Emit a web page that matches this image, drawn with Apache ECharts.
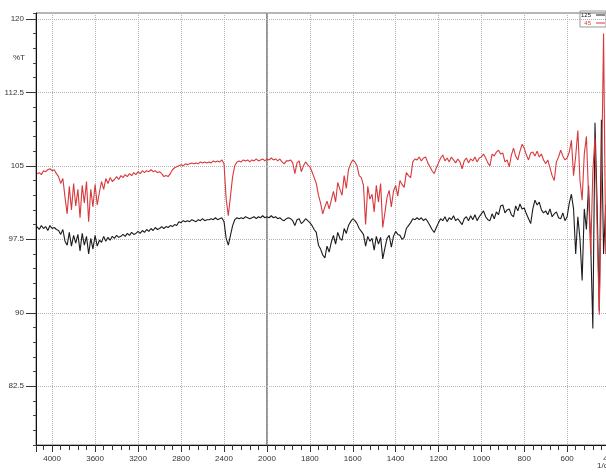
<!DOCTYPE html>
<html>
<head>
<meta charset="utf-8">
<script src="https://cdn.jsdelivr.net/npm/echarts@6/dist/echarts.min.js"></script>
<style>
html, body { margin: 0; padding: 0; background: #fff; }
#chart { width: 606px; height: 472px; }
</style>
</head>
<body>
<div id="chart"></div>
<script>
// 4150-2000 1/cm (compressed half of the axis)
const wnHigh = [
    4140, 4120, 4100, 4080, 4060, 4040, 4020, 4000, 3980, 3960,
    3940, 3920, 3900, 3880, 3860, 3840, 3820, 3800, 3780, 3760,
    3740, 3720, 3700, 3680, 3660, 3640, 3620, 3600, 3580, 3560,
    3540, 3520, 3500, 3480, 3460, 3440, 3420, 3400, 3380, 3360,
    3340, 3320, 3300, 3280, 3260, 3240, 3220, 3200, 3180, 3160,
    3140, 3120, 3100, 3080, 3060, 3040, 3020, 3000, 2980, 2960,
    2940, 2920, 2900, 2880, 2860, 2840, 2820, 2800, 2780, 2760,
    2740, 2720, 2700, 2680, 2660, 2640, 2620, 2600, 2580, 2560,
    2540, 2520, 2500, 2480, 2460, 2440, 2420, 2400, 2380, 2360,
    2340, 2320, 2300, 2280, 2260, 2240, 2220, 2200, 2180, 2160,
    2140, 2120, 2100, 2080, 2060, 2040, 2020, 2000
];
const redHigh = [
    104.2, 104.3, 104.1, 104.5, 104.4, 104.6, 104.7, 104.5, 104.6, 104.2,
    103.9, 103.2, 103.7, 101.8, 100.1, 102.9, 100.5, 103.2, 100.9, 102.6,
    99.7, 103.0, 101.2, 103.4, 99.3, 102.6, 100.8, 103.1, 101.0, 102.3,
    103.4, 102.6, 103.7, 103.2, 103.8, 103.4, 103.6, 103.9, 103.6, 104.0,
    103.8, 104.1, 103.9, 104.2, 104.0, 104.3, 104.1, 104.4, 104.2, 104.5,
    104.3, 104.5, 104.4, 104.6, 104.4, 104.5, 104.3, 104.4, 104.2, 103.9,
    104.0, 103.9, 104.2, 104.6, 104.8, 104.9, 105.0, 105.1, 105.0, 105.2,
    105.1, 105.2, 105.3, 105.2, 105.3, 105.2, 105.4, 105.3, 105.4, 105.3,
    105.4, 105.3, 105.5, 105.4, 105.5, 105.4, 105.6, 105.2, 101.6, 99.9,
    101.9, 103.9, 105.0, 105.4, 105.5, 105.4, 105.6, 105.5, 105.6, 105.4,
    105.6, 105.5, 105.7, 105.5, 105.6, 105.7, 105.5, 105.7
];
const blackHigh = [
    98.8, 98.5, 98.9, 98.6, 98.8, 98.4, 98.9, 98.6, 98.7, 98.5,
    98.4, 98.0, 98.5, 97.3, 96.9, 98.2, 96.8, 97.9, 97.1, 98.0,
    96.3, 98.1, 96.9, 97.8, 96.0, 97.6, 96.5, 97.9, 96.8, 97.4,
    97.2, 97.8, 97.3, 97.7, 97.4, 97.8, 97.6, 97.9, 97.7, 97.8,
    98.0, 97.8, 98.1, 97.9, 98.2, 98.0, 98.1, 98.3, 98.1, 98.4,
    98.2, 98.5, 98.3, 98.6, 98.4, 98.7, 98.5, 98.6, 98.8, 98.6,
    98.8, 98.7, 98.9, 98.8, 99.0, 98.9, 99.3, 99.2, 99.4, 99.3,
    99.4, 99.3, 99.5, 99.4, 99.3, 99.5, 99.4, 99.6, 99.4, 99.5,
    99.5, 99.6, 99.5, 99.7, 99.5, 99.6, 99.7, 99.3, 97.6, 96.9,
    97.9, 98.9, 99.5, 99.7, 99.6, 99.7, 99.6, 99.8, 99.7, 99.6,
    99.7, 99.8, 99.6, 99.8, 99.7, 99.9, 99.7, 99.8
];

// 2000-400 1/cm (expanded half)
const wnLow = [
    2000, 1990, 1980, 1970, 1960, 1950, 1940, 1930, 1920, 1910,
    1900, 1890, 1880, 1870, 1860, 1850, 1840, 1830, 1820, 1810,
    1800, 1790, 1780, 1770, 1760, 1750, 1740, 1730, 1720, 1710,
    1700, 1690, 1680, 1670, 1660, 1650, 1640, 1630, 1620, 1610,
    1600, 1590, 1580, 1570, 1560, 1550, 1540, 1530, 1520, 1510,
    1500, 1490, 1480, 1470, 1460, 1450, 1440, 1430, 1420, 1410,
    1400, 1390, 1380, 1370, 1360, 1350, 1340, 1330, 1320, 1310,
    1300, 1290, 1280, 1270, 1260, 1250, 1240, 1230, 1220, 1210,
    1200, 1190, 1180, 1170, 1160, 1150, 1140, 1130, 1120, 1110,
    1100, 1090, 1080, 1070, 1060, 1050, 1040, 1030, 1020, 1010,
    1000, 990, 980, 970, 960, 950, 940, 930, 920, 910,
    900, 890, 880, 870, 860, 850, 840, 830, 820, 810,
    800, 790, 780, 770, 760, 750, 740, 730, 720, 710,
    700, 690, 680, 670, 660, 650, 640, 630, 620, 610,
    600, 590, 580, 570, 560, 550, 540, 530, 520, 510,
    500, 490, 480, 470, 460, 450, 440, 430, 420, 410,
    400
];
const redLow = [
    105.7, 105.6, 105.8, 105.6, 105.7, 105.5, 105.7, 105.4, 105.2, 105.5,
    105.5, 105.6, 105.3, 104.2, 105.3, 105.5, 104.4, 105.0, 105.4, 105.1,
    104.9, 104.4, 103.8, 103.2, 102.0, 101.2, 100.1, 100.8, 101.4, 100.6,
    101.5, 102.4, 101.3, 103.3, 102.6, 102.0, 104.0, 102.7, 104.6, 105.2,
    105.6, 105.4, 105.0, 104.0, 103.8, 103.0, 99.0, 102.9, 101.6, 102.1,
    100.3, 103.0, 101.3, 103.2, 98.7, 100.2, 101.8, 102.5, 100.8, 102.4,
    103.0, 101.9, 103.5, 103.1, 102.8, 104.3, 104.0, 103.8, 105.4, 105.7,
    105.6, 105.9, 105.5, 105.8, 105.9, 105.3, 104.9, 104.5, 104.2, 104.8,
    105.3, 105.8, 106.1, 105.5, 105.8, 105.4, 105.9, 105.6, 105.3, 105.7,
    105.4, 104.7, 105.5, 105.8, 105.3, 105.7, 105.5, 105.9, 105.4, 105.8,
    105.9, 106.2, 105.8, 105.3, 105.0, 106.2, 106.0, 106.4, 106.6, 106.2,
    106.3, 105.4, 105.6, 104.9, 106.1, 106.8, 106.0, 105.6, 106.5, 107.2,
    106.8, 106.1, 105.6, 106.3, 106.4, 106.0, 106.5, 105.9, 106.2, 105.6,
    105.2, 105.6, 104.8, 104.0, 103.5, 105.4, 105.9, 106.6, 106.0, 105.6,
    105.8, 106.4, 107.6, 104.0, 106.0, 108.6, 103.5, 101.5, 106.2, 108.0,
    102.0, 96.0, 104.5, 107.9, 98.5, 89.8, 102.8, 118.5, 96.0, 110.0,
    105.0
];
const blackLow = [
    99.8, 99.7, 99.9, 99.7, 99.8, 99.6, 99.7, 99.5, 99.4, 99.6,
    99.7, 99.6, 99.4, 98.9, 99.5, 99.6, 99.1, 99.3, 99.6, 99.4,
    99.2, 98.9, 98.5, 98.2, 96.9, 96.5, 95.9, 95.6, 96.8, 96.2,
    97.2, 97.9, 97.0, 98.2, 97.6, 97.4, 98.6, 98.1, 98.9, 99.3,
    99.6, 99.4, 99.1, 98.6, 98.3, 98.0, 96.8, 97.8, 97.3, 97.6,
    96.4, 97.8, 97.0, 97.7, 95.5, 96.6, 97.6, 97.9, 96.7, 97.8,
    98.3, 98.0, 97.9, 97.5, 97.7, 98.6, 98.9, 99.2, 99.6, 99.5,
    99.7, 99.5, 99.7, 99.4, 99.6, 99.3, 98.9, 98.5, 98.2, 98.7,
    99.2, 99.6, 99.4, 99.8, 99.3, 99.7, 99.5, 99.9, 99.4, 99.6,
    99.3, 99.0, 99.6, 99.8, 99.4, 99.9, 99.5, 100.0, 99.4, 99.8,
    100.1, 100.4, 99.8, 99.5, 99.4, 100.1, 99.6, 100.3, 100.0, 100.9,
    101.0, 100.2, 100.5, 100.6, 100.0, 99.8, 100.9, 100.4, 101.1, 100.6,
    100.7, 100.1, 99.6, 99.1, 100.6, 101.5, 101.0, 101.3, 100.5, 100.2,
    100.4, 100.0, 100.6, 99.8, 100.1, 100.3, 99.7, 99.6, 100.2, 99.4,
    99.8, 101.2, 102.1, 100.6, 96.0, 99.8, 97.5, 93.3, 100.6, 98.5,
    103.0, 97.0, 88.4, 109.4, 101.0, 90.2, 109.7, 96.0, 101.0, 96.0,
    99.0
];

const yMajor = [82.5, 90, 97.5, 105, 112.5, 120];
const yMin = 76.5, yMax = 120.6;

function pairs(xs, ys) {
    return xs.map((x, i) => [x, ys[i]]);
}

const chart = echarts.init(document.getElementById('chart'));

const font = { fontFamily: 'Liberation Sans', fontSize: 8, color: '#333' };
const dotted = { show: true, lineStyle: { color: '#b5b5b5', type: 'dotted', width: 1 } };
const blackLine = { color: '#1c1c1c', width: 1.1 };
const redLine = { color: '#d8393c', width: 1.1 };

chart.setOption({
    animation: false,
    backgroundColor: '#fff',
    grid: [
        { left: 36, top: 13, width: 231, bottom: 27, show: true, borderColor: '#6e6e6e', borderWidth: 1,
          outerBoundsMode: 'none', containLabel: false },
        { left: 267, top: 13, width: 343, bottom: 27, show: true, borderColor: '#6e6e6e', borderWidth: 1,
          outerBoundsMode: 'none', containLabel: false }
    ],
    legend: {
        orient: 'vertical', right: 0, top: 11, align: 'right',
        icon: 'rect', itemWidth: 9, itemHeight: 1, itemGap: 2, padding: 1,
        borderColor: '#999', borderWidth: 1,
        textStyle: { fontFamily: 'Liberation Sans', fontSize: 6 },
        data: [
            { name: '125', textStyle: { color: '#222' } },
            { name: '45', textStyle: { color: '#d8393c' } }
        ]
    },
    xAxis: [
        {
            gridIndex: 0, type: 'value', inverse: true, min: 2000, max: 4150, interval: 400,
            axisLine: { lineStyle: { color: '#111' } },
            axisTick: { length: 7, lineStyle: { color: '#333' } },
            minorTick: { show: true, splitNumber: 5, length: 5, lineStyle: { color: '#333' } },
            axisLabel: Object.assign({}, font, { margin: 10, showMinLabel: true,
                formatter: v => (v % 400 === 0 ? String(v) : '') }),
            splitLine: dotted
        },
        {
            gridIndex: 1, type: 'value', inverse: true, min: 400, max: 2000, interval: 200,
            axisLine: { lineStyle: { color: '#111' } },
            axisTick: { length: 7, lineStyle: { color: '#333' } },
            minorTick: { show: true, splitNumber: 5, length: 5, lineStyle: { color: '#333' } },
            axisLabel: Object.assign({}, font, { margin: 10, showMinLabel: true,
                formatter: v => (v === 2000 ? '' : String(v)) }),
            splitLine: dotted
        }
    ],
    yAxis: [
        {
            // minor ticks every 1.5 %T
            gridIndex: 0, type: 'value', position: 'left', min: yMin, max: yMax, interval: 1.5,
            axisLine: { show: true, lineStyle: { color: '#111' } },
            axisTick: { show: true, length: 3, lineStyle: { color: '#444' } },
            axisLabel: { show: false },
            splitLine: { show: false }
        },
        {
            gridIndex: 0, type: 'value', position: 'left', offset: 0, min: yMin, max: yMax,
            axisLine: { show: false },
            axisTick: { show: true, length: 10, customValues: yMajor, lineStyle: { color: '#333' } },
            axisLabel: Object.assign({}, font, { margin: 12, customValues: yMajor }),
            splitLine: dotted
        },
        {
            gridIndex: 1, type: 'value', position: 'left', min: yMin, max: yMax,
            axisLine: { show: false },
            axisTick: { show: false, customValues: yMajor },
            axisLabel: { show: false },
            splitLine: dotted
        }
    ],
    graphic: [
        { type: 'text', left: 13, top: 54, style: { text: '%T', fontFamily: 'Liberation Sans', fontSize: 8, fill: '#333' } },
        { type: 'text', left: 597, top: 462, style: { text: '1/cm', fontFamily: 'Liberation Sans', fontSize: 8, fill: '#333' } }
    ],
    series: [
        { name: '125', type: 'line', xAxisIndex: 0, yAxisIndex: 0, data: pairs(wnHigh, blackHigh),
          symbol: 'none', lineStyle: blackLine, itemStyle: { color: '#1c1c1c' } },
        { name: '45', type: 'line', xAxisIndex: 0, yAxisIndex: 0, data: pairs(wnHigh, redHigh),
          symbol: 'none', lineStyle: redLine, itemStyle: { color: '#d8393c' } },
        { name: '125', type: 'line', xAxisIndex: 1, yAxisIndex: 2, data: pairs(wnLow, blackLow),
          symbol: 'none', lineStyle: blackLine, itemStyle: { color: '#1c1c1c' } },
        { name: '45', type: 'line', xAxisIndex: 1, yAxisIndex: 2, data: pairs(wnLow, redLow),
          symbol: 'none', lineStyle: redLine, itemStyle: { color: '#d8393c' } }
    ]
});
</script>
</body>
</html>
